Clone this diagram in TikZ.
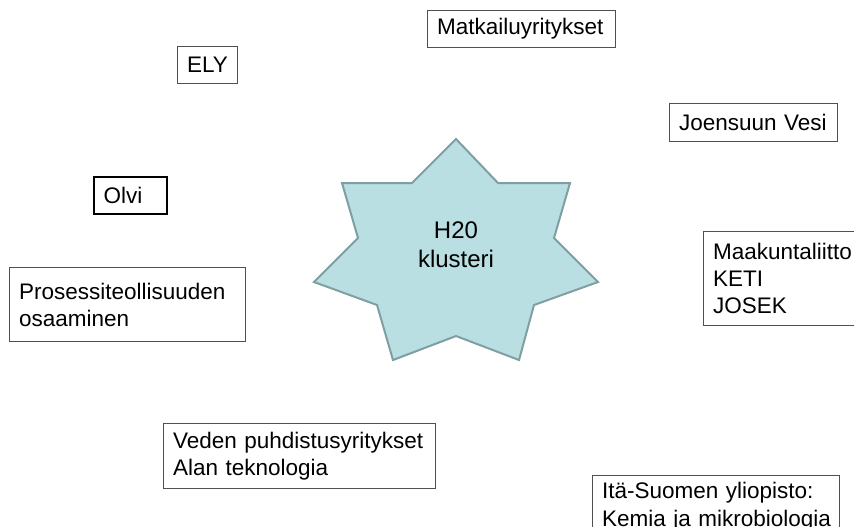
\documentclass[tikz,border=0pt]{standalone}
\usepackage{fontspec}
\setmainfont{Liberation Sans}
\definecolor{starfill}{RGB}{185,223,226}
\definecolor{starline}{RGB}{127,159,161}
\definecolor{boxline}{RGB}{80,80,80}
\newcommand\mynohyph{\hyphenpenalty10000\relax\exhyphenpenalty10000\relax\hbadness10000\relax\hfuzz20pt\relax}
\begin{document}
\begin{tikzpicture}[x=0.5pt,y=-0.5pt,
  lbl/.style={draw=boxline,line width=0.6pt,anchor=north west,inner xsep=4.75pt,inner ysep=0pt,
    align=left,font={\fontsize{11.25}{13.6}\selectfont\mynohyph}},
  starshape/.style={fill=starfill,draw=starline,line width=1pt,line join=miter},
  startext/.style={align=center,font=\fontsize{12}{14.4}\selectfont}]
\useasboundingbox (0,0) rectangle (854,526);
\fill[white] (0,0) rectangle (854,526);
% star
\draw[starshape] (456,139) -- (498,183) -- (570,183) -- (554,238) -- (598,282) -- (534,305)
  -- (519,360) -- (456,336) -- (393,360) -- (377,305) -- (314,282) -- (358,238)
  -- (342,183) -- (412,183) -- cycle;
\node[startext] (hub) at (456,245) {H20\\klusteri};
% boxes
\node[lbl,text width=84.5pt,minimum height=18.5pt] (matk) at (427,10) {Matkailuyritykset};
\node[lbl,text width=20.5pt,minimum height=18.5pt] (ely) at (177,46) {ELY};
\node[lbl,draw=black,line width=1pt,text width=27pt,minimum height=18.5pt] (olvi) at (93,176) {Olvi};
\node[lbl,text width=74.5pt,minimum height=19pt] (vesi) at (669,103) {Joensuun Vesi};
\node[lbl,text width=74pt,minimum height=47pt] (maak) at (703,231) {Maakuntaliitto\\KETI\\JOSEK};
\node[lbl,text width=108.5pt,minimum height=37pt] (pros) at (9,267) {Prosessiteollisuuden\\osaaminen};
\node[lbl,text width=126.5pt,minimum height=32.5pt] (veden) at (163,423) {Veden puhdistusyritykset\\Alan teknologia};
\node[lbl,text width=114pt,minimum height=31pt] (ita) at (592,475) {Itä-Suomen~yliopisto:\\Kemia~ja~mikrobiologia};
\end{tikzpicture}
\end{document}
